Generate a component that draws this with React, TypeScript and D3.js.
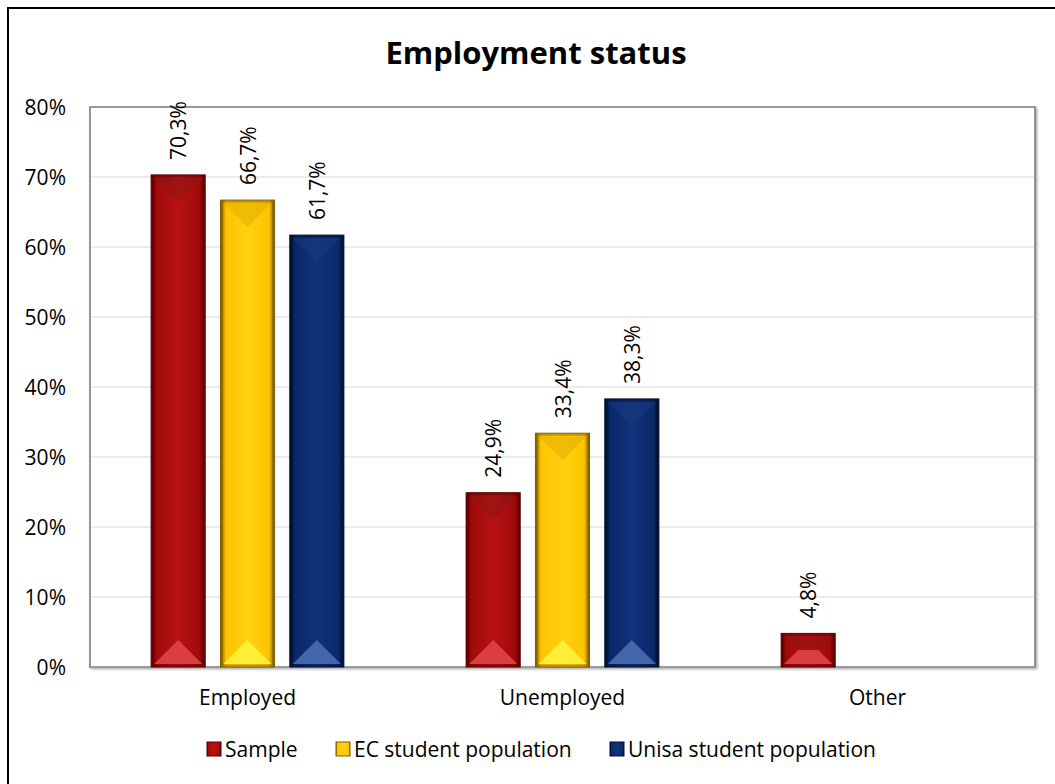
import React from "react";
import * as d3 from "d3";

const categories = ["Employed", "Unemployed", "Other"];
const seriesNames = ["Sample", "EC student population", "Unisa student population"];
const sampleValues: (number | null)[] = [70.3, 24.9, 4.8];
const ecValues: (number | null)[] = [66.7, 33.4, null];
const unisaValues: (number | null)[] = [61.7, 38.3, null];
const yTicks = [0, 10, 20, 30, 40, 50, 60, 70, 80];

const palettes = [
  { base: "#a00a0a", dark: "#5a0000", light: "#b81212", top: "#8c1414", bottom: "#e04448" },
  { base: "#ffc400", dark: "#7d5e00", light: "#ffd010", top: "#e3ad00", bottom: "#fff23a" },
  { base: "#0a286a", dark: "#00102e", light: "#10337c", top: "#1a3a80", bottom: "#4a6cb0" },
];

const FONT = "'Open Sans', Lato, sans-serif";

export default function App() {
  const W = 1055, H = 784;
  const plot = { left: 90, right: 1035, top: 107, bottom: 667 };
  const x0 = d3.scaleBand<string>().domain(categories).range([plot.left, plot.right]).padding(0);
  const y = d3.scaleLinear().domain([0, 80]).range([plot.bottom, plot.top]);
  const allSeries = [sampleValues, ecValues, unisaValues];
  const x1 = d3.scaleBand<string>().domain(seriesNames).range([-104, 104]).paddingInner(0.22).paddingOuter(0.11);
  const bw = x1.bandwidth();
  const fmt = (v: number) => v.toFixed(1).replace(".", ",") + "%";

  const bars: any[] = [];
  categories.forEach((c, ci) => {
    allSeries.forEach((vals, si) => {
      const v = vals[ci];
      if (v == null) return;
      const cx = (x0(c) as number) + x0.bandwidth() / 2;
      const bx = cx + (x1(seriesNames[si]) as number);
      const by = y(v);
      const bh = plot.bottom - by;
      bars.push({ ci, si, v, bx, by, bh });
    });
  });

  return (
    <svg width={W} height={H} style={{ position: "absolute", left: 0, top: 0, background: "#fff" }}>
      <defs>
        {palettes.map((p, i) => (
          <linearGradient key={i} id={`g${i}`} x1="0" x2="1" y1="0" y2="0">
            <stop offset="0" stopColor={p.dark} />
            <stop offset="0.1" stopColor={p.base} />
            <stop offset="0.5" stopColor={p.light} />
            <stop offset="0.9" stopColor={p.base} />
            <stop offset="1" stopColor={p.dark} />
          </linearGradient>
        ))}
        <filter id="sh" x="-5%" y="-5%" width="110%" height="110%">
          <feDropShadow dx="1.5" dy="1.5" stdDeviation="0.8" floodColor="#000" floodOpacity="0.35" />
        </filter>
      </defs>
      <rect x={8} y={8} width={W + 10} height={H + 10} fill="#fff" stroke="#000" strokeWidth={2} />
      <text x={536} y={64} textAnchor="middle" fontFamily={FONT} fontWeight="bold" fontSize={31} fill="#000">
        Employment status
      </text>
      <rect x={plot.left} y={plot.top} width={plot.right - plot.left} height={plot.bottom - plot.top} fill="#fff" stroke="#8c8c8c" strokeWidth={1.5} filter="url(#sh)" />
      {yTicks.map((t) => (
        <line key={t} x1={plot.left} x2={plot.right} y1={y(t)} y2={y(t)} stroke={t === 0 ? "#c8c8c8" : "#d9d9d9"} strokeWidth={t === 0 ? 2 : 1} />
      ))}
      <rect x={plot.left} y={plot.top} width={plot.right - plot.left} height={plot.bottom - plot.top} fill="none" stroke="#8c8c8c" strokeWidth={1.5} />
      {yTicks.map((t) => (
        <text key={t} x={66} y={y(t) + 7.5} textAnchor="end" fontFamily={FONT} fontSize={21} fill="#000">
          {t}%
        </text>
      ))}
      {categories.map((c) => (
        <text key={c} x={(x0(c) as number) + x0.bandwidth() / 2} y={705} textAnchor="middle" fontFamily={FONT} fontSize={21} fill="#000">
          {c}
        </text>
      ))}
      {bars.map((b, i) => {
        const p = palettes[b.si];
        const d = Math.min(bw / 2 - 3, b.bh * 0.42);
        const L = b.bx, R = b.bx + bw, T = b.by, B = plot.bottom;
        const e = 3;
        const topPoly = `${L + e},${T + e} ${R - e},${T + e} ${R - e - d},${T + e + d} ${L + e + d},${T + e + d}`;
        const botPoly = `${L + e},${B - e} ${R - e},${B - e} ${R - e - d},${B - e - d} ${L + e + d},${B - e - d}`;
        return (
          <g key={i}>
            <rect x={L} y={T} width={bw} height={b.bh} fill={`url(#g${b.si})`} stroke={p.dark} strokeWidth={1} />
            <polygon points={topPoly} fill={p.top} opacity={0.55} />
            <polygon points={botPoly} fill={p.bottom} opacity={0.9} />
            <rect x={L + 1.5} y={T + 1.5} width={bw - 3} height={b.bh - 3} fill="none" stroke={p.dark} strokeWidth={2} opacity={0.5} />
            <text
              transform={`translate(${L + bw / 2 + 8},${T - 15}) rotate(-90)`}
              fontFamily={FONT}
              fontSize={21}
              fill="#000"
            >
              {fmt(b.v)}
            </text>
          </g>
        );
      })}
      {[
        { x: 207, tx: 225 },
        { x: 336, tx: 354 },
        { x: 610, tx: 628 },
      ].map((l, i) => {
        const p = palettes[i];
        return (
          <g key={i}>
            <rect x={l.x} y={742} width={14} height={14} fill={`url(#g${i})`} stroke={p.dark} strokeWidth={1} />
            <rect x={l.x + 3.5} y={745.5} width={7} height={7} fill={p.light} opacity={0.8} />
            <text x={l.tx} y={757} fontFamily={FONT} fontSize={21} fill="#000">
              {seriesNames[i]}
            </text>
          </g>
        );
      })}
    </svg>
  );
}
